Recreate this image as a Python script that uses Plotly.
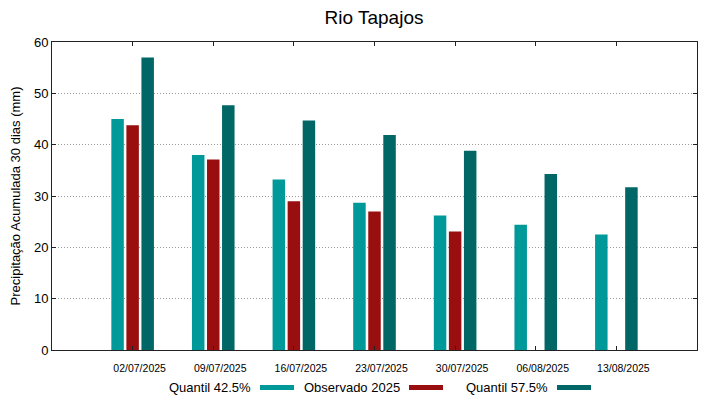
import plotly.graph_objects as go

datas = ["02/07/2025", "09/07/2025", "16/07/2025", "23/07/2025", "30/07/2025", "06/08/2025", "13/08/2025"]
quantil_425 = [45.0, 38.0, 33.2, 28.7, 26.2, 24.4, 22.5]
observado_2025 = [43.8, 37.1, 29.0, 27.0, 23.1, None, None]
quantil_575 = [57.0, 47.7, 44.7, 41.9, 38.8, 34.3, 31.7]

series = [
    ("Quantil 42.5%", quantil_425, "#009999"),
    ("Observado 2025", observado_2025, "#990f0f"),
    ("Quantil 57.5%", quantil_575, "#006666"),
]

fig = go.Figure()
for name, vals, col in series:
    fig.add_trace(go.Bar(x=datas, y=vals, name=name, marker=dict(color=col, line=dict(width=0)),
                         showlegend=False))

# page body has an 8px margin; figure is shrunk so it ends at the window edge
OFF = 8
W, H = 719 - OFF, 399 - OFF
L, R, T, B = 52 - OFF, 22, 42 - OFF, 49
font = "Liberation Sans, Arial, sans-serif"
fig.update_layout(
    width=W, height=H,
    margin=dict(l=L, r=R, t=T, b=B, autoexpand=False),
    paper_bgcolor="white", plot_bgcolor="white",
    font=dict(family=font, color="#000"),
    barmode="group", bargap=0.44, bargroupgap=0.17,
    title=dict(text="Rio Tapajos", x=(374 - OFF) / W, xanchor="center",
               y=1 - (17 - OFF) / H, yanchor="middle",
               font=dict(size=19, family=font)),
)
fig.update_xaxes(type="category", range=[-1, 7], showline=True, linecolor="#222", linewidth=1,
                 mirror="ticks", ticks="inside", ticklen=4, tickcolor="#222",
                 tickfont=dict(size=10.5), showgrid=False, automargin=False,
                 ticklabelshift=7, ticklabelstandoff=8)
fig.update_yaxes(range=[0, 60], dtick=10, showline=True, linecolor="#222", linewidth=1,
                 mirror="ticks", ticks="inside", ticklen=4, tickcolor="#222",
                 tickfont=dict(size=13), showgrid=True, gridcolor="#999", griddash="1px,2px",
                 gridwidth=1, zeroline=False, automargin=False,
                 title=dict(text="Precipitação Acumulada 30 dias (mm)", font=dict(size=13), standoff=10))

# manual legend (text left of swatch), positions in window pixels
leg = [(253, 260, 294), (402, 409, 443), (550, 557, 591)]
pw = W - L - R
ph = H - T - B
def px(x):
    return (x - OFF - L) / pw
def py(y):
    return (H - B - (y - OFF)) / ph
for (name, vals, col), (tx, s0, s1) in zip(series, leg):
    fig.add_annotation(text=name, x=px(tx), y=py(387), xref="paper", yref="paper",
                       xanchor="right", yanchor="middle", showarrow=False, font=dict(size=13))
    fig.add_shape(type="rect", xref="paper", yref="paper", x0=px(s0), x1=px(s1),
                  y0=py(390), y1=py(385), fillcolor=col, line=dict(width=0))

fig.write_html("out.html")
